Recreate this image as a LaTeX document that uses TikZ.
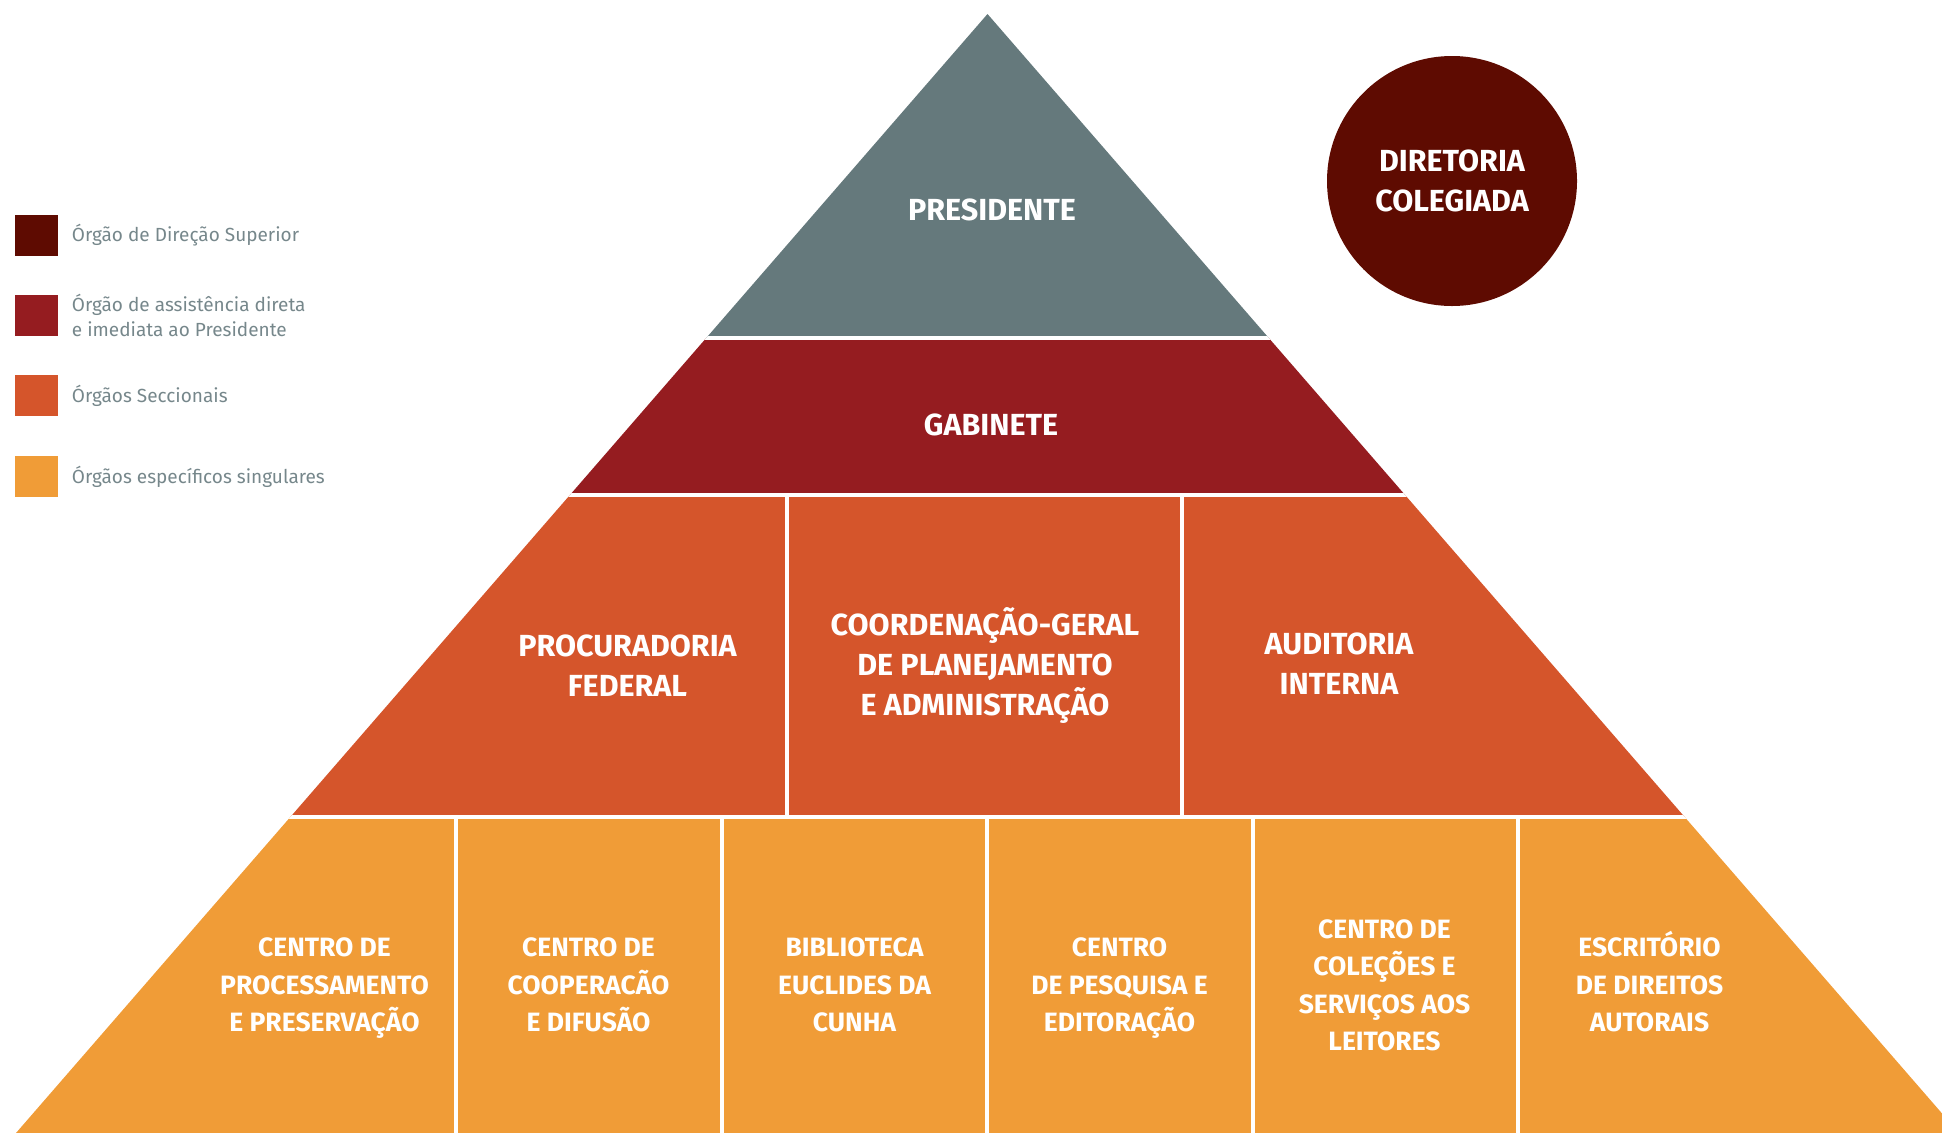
\documentclass[tikz,border=0pt]{standalone}
\usepackage{fontspec}
\setmainfont{Fira Sans}
\usetikzlibrary{positioning}

\definecolor{presgray}{HTML}{65797C}
\definecolor{gabred}{HTML}{951C20}
\definecolor{secorange}{HTML}{D5552B}
\definecolor{singorange}{HTML}{F09C37}
\definecolor{dirmaroon}{HTML}{5E0B01}
\definecolor{legendgray}{HTML}{76878B}

\tikzset{
  lbl/.style={text=white, align=center, inner sep=0pt, anchor=base, font=\bfseries\fontsize{30.5}{40}\selectfont},
  lblsmall/.style={lbl, font=\bfseries\fontsize{26.5}{37.5}\selectfont},
  dircircle/.style={circle, fill=dirmaroon, minimum size=250pt, inner sep=0pt},
  legendbox/.style={minimum width=43pt, minimum height=41pt, inner sep=0pt},
  legendtext/.style={text=legendgray, align=left, inner sep=0pt, font=\fontsize{19}{24.5}\selectfont},
  gap/.style={white, line width=4pt},
}

\begin{document}
\begin{tikzpicture}[x=1pt, y=-1pt]
                \useasboundingbox (0,0) rectangle (1942,1133);

                % Pyramid bands
                \begin{scope}
                \clip (987.5,14) -- (16,1133) -- (1959,1133) -- cycle;
                \fill[presgray] (0,0) rectangle (1942,337.5);
                \fill[gabred] (0,337.5) rectangle (1942,494.5);
                \fill[secorange] (0,494.5) rectangle (1942,817);
                \fill[singorange] (0,817) rectangle (1942,1133);
                \foreach \y in {337.5,494.5,817}
                    \draw[gap] (0,\y) -- (1942,\y);
                \foreach \x in {786.5,1181.5}
                    \draw[gap] (\x,494.5) -- (\x,817);
                \foreach \x in {456,721.5,987,1252.5,1518}
                    \draw[gap] (\x,817) -- (\x,1133);
                \end{scope}

                % Top levels (base = last line)
                \node[lbl] (presidente) at (992,220) {PRESIDENTE};
                \node[lbl] (gabinete) at (991,435) {GABINETE};

                % Sectional bodies
                \node[lbl] (procuradoria) at (627.5,696) {PROCURADORIA\\FEDERAL};
                \node[lbl] (coordenacao) at (985,715.7) {COORDENAÇÃO-GERAL\\DE PLANEJAMENTO\\E ADMINISTRAÇÃO};
                \node[lbl] (auditoria) at (1339,694) {AUDITORIA\\INTERNA};

                % Specific bodies
                \node[lblsmall] (processamento) at (324.5,1031.7) {CENTRO DE\\PROCESSAMENTO\\E PRESERVAÇÃO};
                \node[lblsmall] (cooperacao) at (588.5,1031.7) {CENTRO DE\\COOPERACÃO\\E DIFUSÃO};
                \node[lblsmall] (biblioteca) at (854.5,1031.7) {BIBLIOTECA\\EUCLIDES DA\\CUNHA};
                \node[lblsmall] (pesquisa) at (1119.5,1031.7) {CENTRO\\DE PESQUISA E\\EDITORAÇÃO};
                \node[lblsmall] (colecoes) at (1384.5,1050.5) {CENTRO DE\\COLEÇÕES E\\SERVIÇOS AOS\\LEITORES};
                \node[lblsmall] (escritorio) at (1649.5,1031.7) {ESCRITÓRIO\\DE DIREITOS\\AUTORAIS};

                % Board
                \node[dircircle] (diretoria) at (1452,181) {};
                \node[lbl] (diretoriatxt) at (1452,211.7) {DIRETORIA\\COLEGIADA};

                % Legend
                \node[legendbox, fill=dirmaroon] (leg1) at (36.5,235.5) {};
                \node[legendbox, fill=gabred] (leg2) at (36.5,315.5) {};
                \node[legendbox, fill=secorange] (leg3) at (36.5,395.5) {};
                \node[legendbox, fill=singorange] (leg4) at (36.5,476.5) {};
                \node[legendtext, right=13.5pt of leg1] (leg1txt) {Órgão de Direção Superior};
                \node[legendtext, right=13.5pt of leg2] (leg2txt) {Órgão de assistência direta\\e imediata ao Presidente};
                \node[legendtext, right=13.5pt of leg3] (leg3txt) {Órgãos Seccionais};
                \node[legendtext, right=13.5pt of leg4] (leg4txt) {Órgãos específicos singulares};
            \end{tikzpicture}
\end{document}
